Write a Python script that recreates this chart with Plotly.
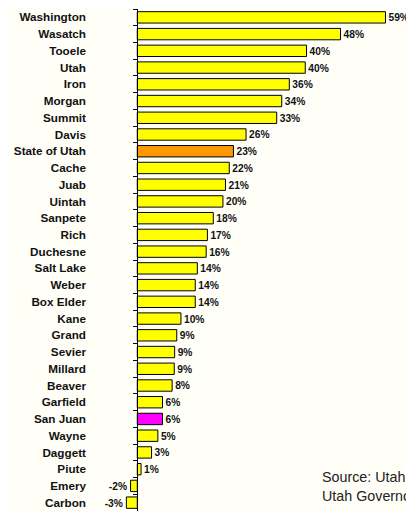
import plotly.graph_objects as go

# county growth (percent)
counties = [
    "Washington", "Wasatch", "Tooele", "Utah", "Iron", "Morgan", "Summit",
    "Davis", "State of Utah", "Cache", "Juab", "Uintah", "Sanpete", "Rich",
    "Duchesne", "Salt Lake", "Weber", "Box Elder", "Kane", "Grand", "Sevier",
    "Millard", "Beaver", "Garfield", "San Juan", "Wayne", "Daggett", "Piute",
    "Emery", "Carbon",
]
growth = [
    59.1, 48.4, 40.3, 40.0, 36.2, 34.4, 33.2,
    25.9, 22.9, 21.9, 21.0, 20.4, 18.1, 16.7,
    16.4, 14.3, 13.8, 13.8, 10.4, 9.4, 8.9,
    8.8, 8.3, 6.0, 6.0, 4.9, 3.4, 0.9,
    -1.6, -2.6,
]
highlight = {"State of Utah": "#FF9900", "San Juan": "#FF00FF"}

source_lines = [
    "Source: Utah Population Estimates Committee,",
    "Utah Governor's Office of Planning and Budget",
]

FONT = "Arial, Liberation Sans, sans-serif"
BG = "#FFFFF8"

colors = [highlight.get(c, "#FFFF00") for c in counties]
labels = [f"{v:.0f}%" for v in growth]

# page body has an 8px margin, so the layout below is shifted up/left by 8
x_min, x_max = -8.88, 67.8

fig = go.Figure(
    go.Bar(
        x=growth,
        y=counties,
        orientation="h",
        marker=dict(color=colors, line=dict(color="#000000", width=1)),
        text=labels,
        textposition="outside",
        cliponaxis=False,
        textfont=dict(family=FONT, size=11.7, color="#111111", weight="bold"),
        hoverinfo="skip",
    )
)

fig.update_xaxes(
    range=[x_min, x_max],
    visible=False,
    showgrid=False,
    zeroline=False,
)
fig.update_yaxes(
    autorange="reversed",
    anchor="free",
    position=(0 - x_min) / (x_max - x_min),
    showline=True,
    linecolor="#000000",
    linewidth=1,
    ticks="outside",
    ticklen=4,
    tickcolor="#000000",
    tickson="boundaries",
    ticklabelstandoff=49,
    tickfont=dict(family=FONT, size=11.7, color="#111111", weight="bold"),
    showgrid=False,
)

# source note, two lines, runs off the right edge like the original
for line, ypos in zip(source_lines, [0.0677, 0.0289]):
    fig.add_annotation(
        xref="paper", yref="paper",
        x=0.682, y=ypos,
        xanchor="left", yanchor="middle",
        showarrow=False,
        text=line,
        font=dict(family=FONT, size=14.3, color="#222222"),
    )

fig.update_layout(
    width=414,
    height=511,
    margin=dict(l=92, r=0, t=1, b=8),
    bargap=0.32,
    showlegend=False,
    paper_bgcolor=BG,
    plot_bgcolor=BG,
)

fig.write_html("out.html")
